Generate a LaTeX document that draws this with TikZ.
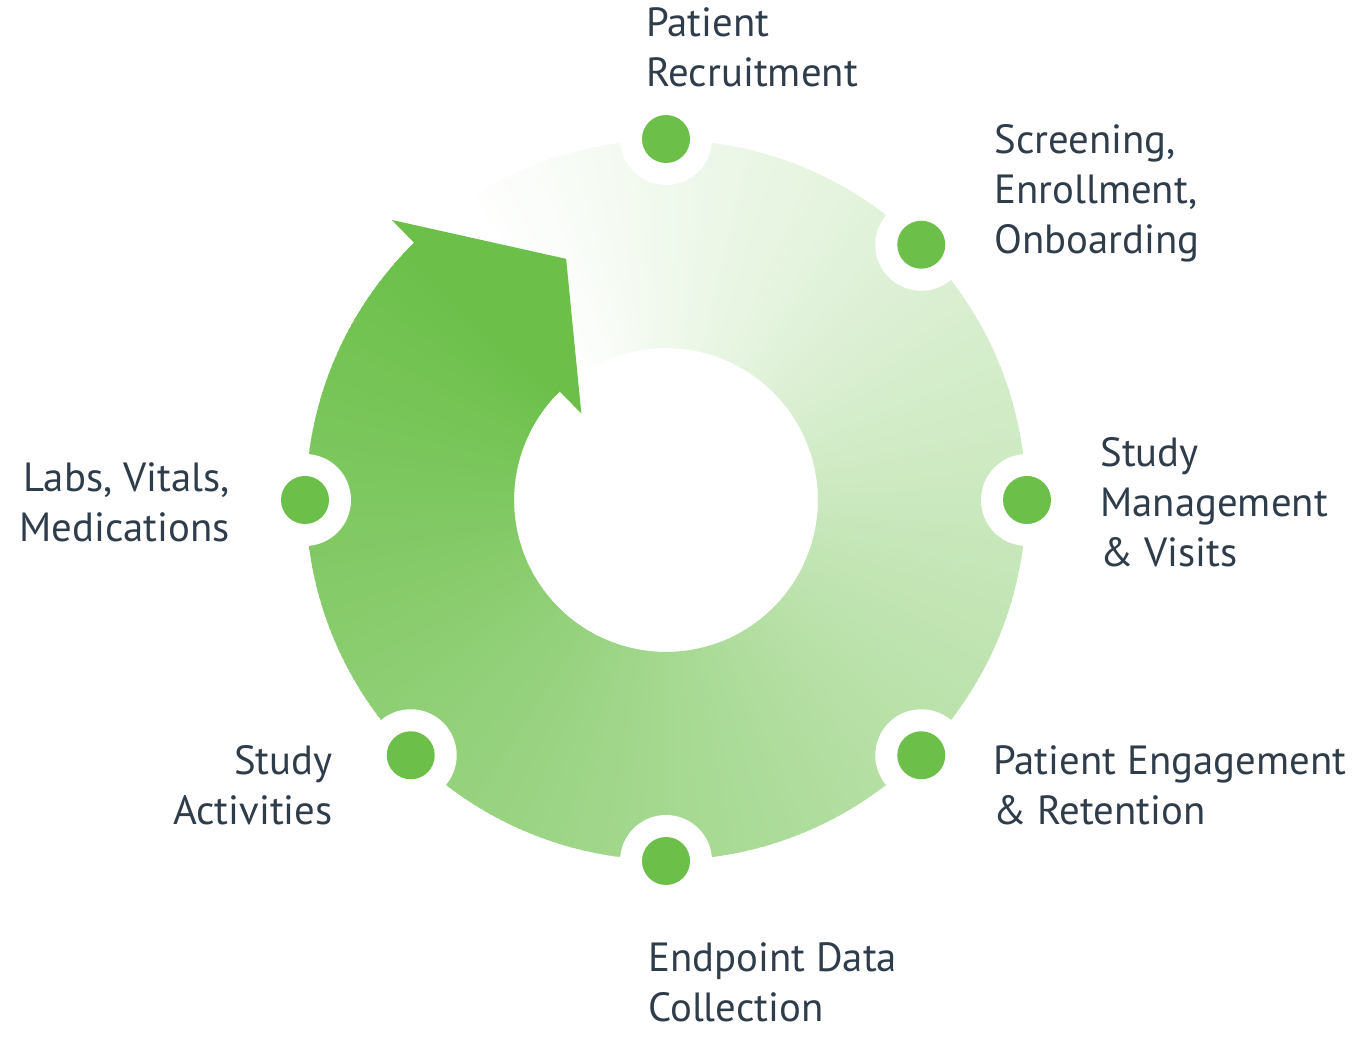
\documentclass[tikz,border=0pt]{standalone}
\usepackage{fontspec}
\setmainfont{PT Sans}
\usepackage{xcolor}
\usepackage{tikz}
\usetikzlibrary{positioning}

\definecolor{ringgreen}{HTML}{6CC04A}
\definecolor{labelgrey}{HTML}{2F3D4A}

\begin{document}
\begin{tikzpicture}[x=0.02cm, y=0.02cm,
    stagehalo/.style={circle, fill=white, minimum size=92*0.02cm, inner sep=0pt},
    stagedot/.style={circle, fill=ringgreen, minimum size=48*0.02cm, inner sep=0pt},
    stagelabel/.style={text=labelgrey, inner sep=0pt, font=\fontsize{23.2}{28.4}\selectfont}]
        \useasboundingbox (0,0) rectangle (1372,1048);

        % Ring, shaded clockwise from white to green
        \begin{scope}[shift={(666,548)}]
        \foreach \i in {0,...,349} {
            \pgfmathsetmacro\a{125-\i}
            \pgfmathsetmacro\b{\a-1.5}
            \pgfmathsetmacro\t{\i/349*100}
            \fill[ringgreen!\t!white] (\a:360) -- (\b:360) -- (\b:152) -- (\a:152) -- cycle;
        }

        % Arrow head (overlaps the end of the ring)
        \fill[ringgreen] (134.4:392) -- (112.5:261) -- (134.4:121) -- (134.4:152)
            -- (137:152) -- (137:360) -- (134.4:360) -- cycle;

        % Stages on the ring
        \foreach \name/\ang in {recruit/90, screen/45, manage/0, engage/-45, endpoint/-90, activity/-135, labs/180} {
            \node[stagehalo] (\name halo) at (\ang:361) {};
            \node[stagedot] (\name) at (\ang:361) {};
        }
        \end{scope}

        \node[stagelabel, anchor=west, align=left] (recruittext) at (646,1001) {Patient\\Recruitment};
        \node[stagelabel, anchor=west, align=left] (screentext) at (994,855) {Screening,\\Enrollment,\\Onboarding};
        \node[stagelabel, anchor=west, align=left] (managetext) at (1100,546) {Study\\Management\\\& Visits};
        \node[stagelabel, anchor=west, align=left] (engagetext) at (993,263) {Patient Engagement\\\& Retention};
        \node[stagelabel, anchor=west, align=left] (endpointtext) at (648,66) {Endpoint Data\\Collection};
        \node[stagelabel, anchor=east, align=right] (activitytext) at (333,263) {Study\\Activities};
        \node[stagelabel, anchor=east, align=right] (labstext) at (230,546) {Labs, Vitals,\\Medications};
      \end{tikzpicture}
\end{document}
